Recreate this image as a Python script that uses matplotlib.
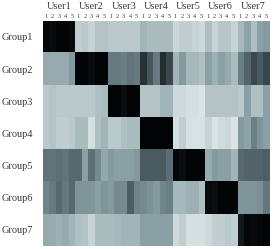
import numpy as np
import matplotlib.pyplot as plt
from matplotlib.colors import LinearSegmentedColormap

groups = ["Group1", "Group2", "Group3", "Group4", "Group5", "Group6", "Group7"]
users = ["User1", "User2", "User3", "User4", "User5", "User6", "User7"]
sessions = ["1", "2", "3", "4", "5"]

# one row per group, 5 sessions per user (35 columns)
group1 = [0.03, 0.05, 0.02, 0.02, 0.04, 0.82, 0.80, 0.84, 0.78, 0.78, 0.80, 0.80, 0.80, 0.80, 0.80,
          0.70, 0.74, 0.74, 0.74, 0.74, 0.85, 0.82, 0.82, 0.84, 0.86, 0.76, 0.84, 0.79, 0.79, 0.84,
          0.72, 0.62, 0.76, 0.60, 0.58]
group2 = [0.66, 0.66, 0.66, 0.66, 0.58, 0.02, 0.02, 0.05, 0.02, 0.02, 0.46, 0.46, 0.48, 0.44, 0.46,
          0.20, 0.33, 0.46, 0.18, 0.28, 0.70, 0.58, 0.72, 0.72, 0.76, 0.60, 0.68, 0.60, 0.66, 0.74,
          0.48, 0.38, 0.28, 0.35, 0.27]
group3 = [0.80, 0.78, 0.80, 0.80, 0.80, 0.80, 0.80, 0.80, 0.76, 0.74, 0.02, 0.02, 0.06, 0.02, 0.02,
          0.78, 0.78, 0.78, 0.70, 0.70, 0.86, 0.86, 0.88, 0.88, 0.90, 0.78, 0.78, 0.78, 0.78, 0.78,
          0.80, 0.60, 0.76, 0.76, 0.60]
group4 = [0.80, 0.78, 0.82, 0.82, 0.80, 0.74, 0.74, 0.88, 0.76, 0.70, 0.80, 0.80, 0.76, 0.74, 0.74,
          0.02, 0.02, 0.02, 0.02, 0.02, 0.88, 0.82, 0.89, 0.89, 0.89, 0.84, 0.90, 0.87, 0.85, 0.90,
          0.58, 0.62, 0.48, 0.56, 0.60]
group5 = [0.43, 0.44, 0.42, 0.44, 0.40, 0.40, 0.60, 0.42, 0.52, 0.64, 0.58, 0.60, 0.60, 0.60, 0.58,
          0.35, 0.35, 0.35, 0.35, 0.42, 0.03, 0.06, 0.02, 0.02, 0.02, 0.66, 0.58, 0.60, 0.60, 0.70,
          0.40, 0.38, 0.38, 0.38, 0.36]
group6 = [0.50, 0.46, 0.40, 0.46, 0.40, 0.56, 0.56, 0.56, 0.60, 0.56, 0.58, 0.52, 0.52, 0.36, 0.50,
          0.52, 0.55, 0.58, 0.50, 0.48, 0.72, 0.72, 0.68, 0.68, 0.76, 0.04, 0.06, 0.02, 0.02, 0.02,
          0.56, 0.56, 0.56, 0.54, 0.45]
group7 = [0.66, 0.66, 0.68, 0.66, 0.70, 0.76, 0.78, 0.84, 0.74, 0.74, 0.74, 0.72, 0.70, 0.70, 0.70,
          0.60, 0.60, 0.60, 0.60, 0.60, 0.86, 0.82, 0.88, 0.88, 0.88, 0.86, 0.82, 0.82, 0.80, 0.82,
          0.10, 0.03, 0.04, 0.03, 0.02]

data = np.array([group1, group2, group3, group4, group5, group6, group7])

# grey with a slight cyan tint, as in the picture
cmap = LinearSegmentedColormap.from_list('greyteal', [
    (0.0, '#000000'), (0.2, '#283236'), (0.43, '#5e7278'), (0.6, '#8aa0a4'),
    (0.78, '#b4c4c6'), (0.9, '#dae4e4'), (1.0, '#eef4f4')])

plt.rcParams['font.family'] = ['Liberation Serif', 'DejaVu Serif']

fig = plt.figure(figsize=(2.77, 2.49), dpi=100)
ax = fig.add_axes([0.155, 0.012, 0.816, 0.904])
ax.imshow(data, cmap=cmap, vmin=0, vmax=1, aspect='auto', interpolation='nearest')

ax.set_yticks(range(len(groups)))
ax.set_yticklabels(groups, fontsize=7.5, color='#3a3a3a')
ax.set_xticks(range(data.shape[1]))
ax.set_xticklabels(sessions * len(users), fontsize=4.5, color='#3a3a3a')
ax.xaxis.tick_top()
ax.tick_params(length=0, pad=1.5)
ax.tick_params(axis='y', pad=7)
for s in ax.spines.values():
    s.set_visible(False)

for i, u in enumerate(users):
    ax.text(i * 5 + 2, -0.82, u, ha='center', va='bottom', fontsize=7.5, color='#3a3a3a')

fig.savefig('out.png', dpi=100)
